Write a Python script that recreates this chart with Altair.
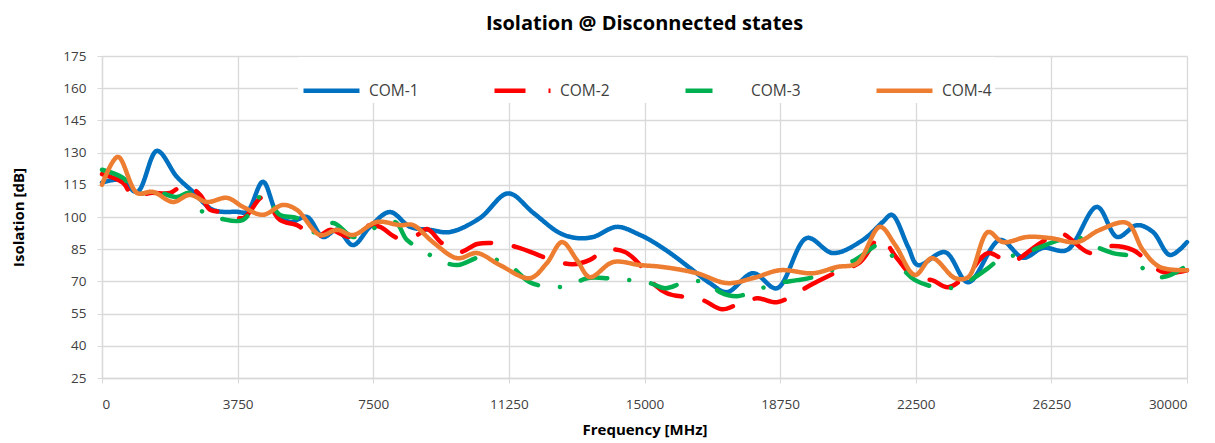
import altair as alt
import pandas as pd

series_names = ["COM-1", "COM-2", "COM-3", "COM-4"]
series_colors = ["#0070C0", "#FF0000", "#00B050", "#ED7D31"]
series_dashes = [[1, 0], [31, 23], [27, 22, 0.01, 22], [1, 0]]

com1_freq = [0, 500, 970, 1520, 2070, 2520, 3070, 3730, 4010, 4450, 4840, 5200, 5670, 6110, 6500, 6940,
             7410, 7960, 8520, 9070, 9620, 10450, 11230, 11920, 12660, 13130, 13580, 14240, 14880, 15150,
             15710, 16260, 16810, 17280, 18000, 18660, 19490, 20210, 21040, 21590, 21840, 22290, 22560,
             23310, 23950, 24830, 25470, 26020, 26680, 27510, 28070, 28620, 29060, 29530, 30000]
com1_val = [116, 117.3, 111.7, 130.8, 118.7, 111.7, 103.3, 102.4, 102.4, 116.4, 101.8, 97.7, 100, 90.7, 94, 86.9,
            95.4, 102.3, 95.4, 94, 93, 99.5, 111, 102, 92.5, 90.2, 90.7, 95.4, 91.6, 89.3,
            83.2, 76.2, 69.2, 65, 73.8, 66.8, 90.2, 83.2, 89.3, 97.7, 101, 86, 77.6,
            83.6, 69.6, 89.3, 81, 85.6, 84.6, 104.7, 90.7, 96.2, 93, 82.3, 88.3]

com2_freq = [0, 580, 860, 1330, 1880, 2290, 2710, 2990, 3350, 3900, 4450, 4920, 5390, 5940, 6300, 6860,
             7410, 7690, 8180, 8710, 8990, 9400, 9900, 10370, 10870, 11470, 12440, 13020, 13490, 13910,
             14460, 14880, 15150, 15620, 16170, 16620, 17140, 17640, 18110, 18660, 19110, 19580, 20130,
             20960, 21510, 21980, 22480, 22950, 23390, 23920, 24500, 25110, 25940, 26490, 27320, 27870,
             28510, 28780, 29340, 30000]
com2_val = [120, 116, 109.5, 111.2, 111.2, 115, 110.3, 103.3, 102.3, 99.5, 109.3, 98.6, 96.2, 90.7, 94, 90.7,
            96.2, 95.4, 90.2, 91.6, 94.4, 87.8, 83.7, 87.4, 87.8, 86, 80, 78, 80, 84.6,
            83.7, 77.6, 70.6, 64.5, 62.6, 61.2, 57, 59.8, 62.1, 60.3, 63.6, 68.2, 72.9,
            79, 90.2, 80.8, 71.5, 70.6, 67.3, 73, 83.2, 79, 87.8, 92.5, 83.2, 86.4,
            84.6, 81.3, 74.3, 75.2]

com3_freq = [0, 580, 970, 1520, 2070, 2430, 2790, 3320, 3900, 4450, 4920, 5390, 5940, 6390, 6940, 7410,
             8100, 8430, 8880, 9290, 9840, 10450, 10920, 11360, 11830, 12440, 12940, 13410, 13990, 14600,
             15150, 15570, 16120, 16730, 17090, 17560, 18140, 18690, 19220, 19660, 20820, 21460, 21650,
             22010, 22480, 23390, 24000, 24500, 24910, 25380, 25880, 26490, 26960, 27370, 27950, 28510,
             28890, 29340, 29890]
com3_val = [122, 118.2, 111.2, 111.7, 109.3, 111.2, 102.3, 99.1, 98.6, 110.3, 101, 99.5, 92.5, 97.2, 90.7, 94,
            97.7, 89.3, 84.6, 80, 77.6, 81.3, 80, 76.2, 69.6, 67.3, 68.2, 71.5, 71.5, 70.6,
            69.2, 66.8, 69.6, 69.6, 65, 63.1, 66.3, 69.2, 70.6, 72, 80, 87, 85.6,
            78.5, 70.6, 66.8, 70.6, 76.2, 81.3, 82.3, 85.6, 89.3, 90.7, 87, 83.2, 81.3,
            74.3, 72, 76.2]

com4_freq = [0, 440, 970, 1410, 1960, 2430, 2900, 3460, 3900, 4450, 5000, 5390, 6030, 6500, 6940, 7600,
             8240, 8600, 9150, 9820, 10370, 11000, 11830, 12300, 12720, 13130, 13490, 14130, 14880, 15510,
             16450, 17280, 18000, 18750, 19660, 20320, 20880, 21510, 21930, 22480, 22950, 23590, 23950,
             24500, 24910, 25580, 26210, 26960, 27590, 28340, 28780, 29250, 30000]
com4_val = [115, 128, 111.2, 111.7, 107, 110.3, 107, 108.9, 104.7, 101, 105.6, 103.3, 91.6, 94, 91.6, 97.7,
            96.2, 96.2, 88.3, 80.8, 83.2, 77.6, 71.5, 78.5, 88.3, 80, 72, 79, 77.6, 76.7,
            73.8, 69.2, 71.5, 75.2, 73.8, 76.7, 78.5, 95.4, 87, 73, 80.8, 71.5, 72,
            93, 88.3, 90.7, 90.2, 88.3, 94, 97.2, 84.6, 76.7, 75.2]

x_ticks = [0, 3750, 7500, 11250, 15000, 18750, 22500, 26250, 30000]
y_ticks = [25, 40, 55, 70, 85, 100, 115, 130, 145, 160, 175]

frames = []
for name, fr, vals in [("COM-1", com1_freq, com1_val), ("COM-2", com2_freq, com2_val),
                       ("COM-3", com3_freq, com3_val), ("COM-4", com4_freq, com4_val)]:
    frames.append(pd.DataFrame({"series": name, "freq": fr, "iso": vals, "ord": range(len(fr))}))
df = pd.concat(frames, ignore_index=True)

FONT = "Open Sans"

chart = alt.Chart(df).mark_line(
    interpolate="catmull-rom", strokeWidth=4.5, strokeCap="round", strokeJoin="round"
).encode(
    x=alt.X("freq:Q", scale=alt.Scale(domain=[0, 30000], nice=False, zero=False),
            axis=alt.Axis(values=x_ticks, title="Frequency [MHz]", format="d",
                          labelPadding=14, titlePadding=12)),
    y=alt.Y("iso:Q", scale=alt.Scale(domain=[25, 175], nice=False, zero=False),
            axis=alt.Axis(values=y_ticks, title="Isolation [dB]", labelPadding=11,
                          titlePadding=36)),
    color=alt.Color("series:N", scale=alt.Scale(domain=series_names, range=series_colors),
                    legend=alt.Legend(title=None, orient="none", direction="horizontal",
                                      legendX=196, legendY=1, columns=4,
                                      symbolType="stroke", symbolSize=3136, symbolStrokeWidth=4.5,
                                      labelFontSize=15.5, labelFont=FONT, labelColor="#404040",
                                      columnPadding=66, fillColor="white", padding=3,
                                      labelOffset=7)),
    strokeDash=alt.StrokeDash("series:N", scale=alt.Scale(domain=series_names, range=series_dashes),
                              legend=None),
    order="ord:Q",
    detail="series:N",
).properties(
    width=1085, height=322,
    background="white",
    title=alt.TitleParams("Isolation @ Disconnected states", font=FONT, fontSize=20,
                          fontWeight="bold", color="#000000", offset=15, anchor="middle"),
    padding={"left": 94, "top": 48, "right": 20, "bottom": 65},
    autosize=alt.AutoSizeParams(type="none"),
).configure_axis(
    gridColor="#D9D9D9", gridWidth=1.3, domainColor="#D9D9D9", domainWidth=1.3,
    tickColor="#D9D9D9", tickSize=5, labelFont=FONT, labelFontSize=13.5, labelColor="#404040",
    titleFont=FONT, titleFontSize=15, titleFontWeight="bold", titleColor="#000000",
).configure_view(
    stroke=None
)

chart.save("out.html", embed_options={"renderer": "svg", "actions": False})
